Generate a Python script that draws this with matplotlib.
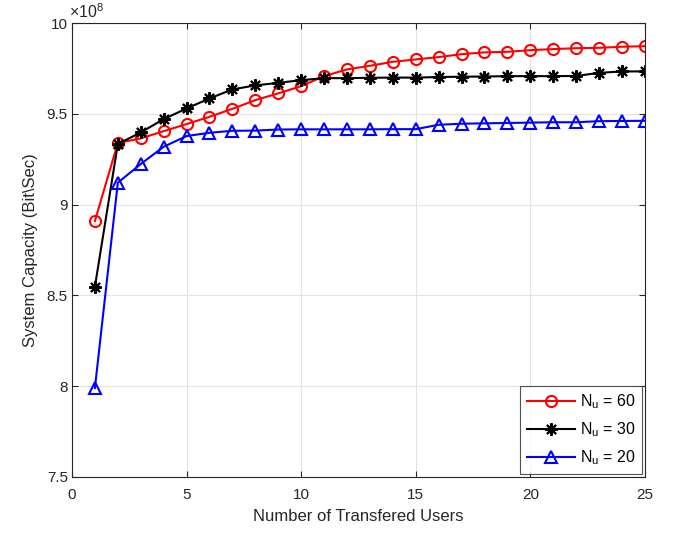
import numpy as np
import matplotlib.pyplot as plt

plt.rcParams['font.family'] = ['Liberation Sans', 'DejaVu Sans']
plt.rcParams['mathtext.fontset'] = 'custom'
plt.rcParams['mathtext.rm'] = 'Liberation Sans'

# transferred users
x = list(range(1, 26))

# system capacity in units of 1e8 bit/sec
y_nu60 = [8.91, 9.34, 9.365, 9.405, 9.444, 9.484, 9.528, 9.576, 9.613, 9.653,
          9.708, 9.745, 9.765, 9.787, 9.800, 9.813, 9.829, 9.839, 9.842, 9.851,
          9.857, 9.862, 9.864, 9.870, 9.873]
y_nu30 = [8.548, 9.334, 9.398, 9.471, 9.530, 9.585, 9.635, 9.657, 9.671, 9.686,
          9.697, 9.697, 9.699, 9.700, 9.700, 9.703, 9.705, 9.706, 9.708, 9.708,
          9.708, 9.709, 9.726, 9.734, 9.734]
y_nu20 = [7.99, 9.121, 9.224, 9.319, 9.378, 9.396, 9.407, 9.408, 9.414, 9.415,
          9.415, 9.415, 9.415, 9.416, 9.416, 9.440, 9.446, 9.448, 9.450, 9.452,
          9.454, 9.454, 9.460, 9.461, 9.462]

labels = [r'N$_{\rm u}$ = 60', r'N$_{\rm u}$ = 30', r'N$_{\rm u}$ = 20']

fig = plt.figure(figsize=(6.81, 5.38), dpi=100)
ax = fig.add_axes([0.1057, 0.1134, 0.8413, 0.8436])

ax.plot(x, y_nu60, color='red', lw=1.5, marker='o', ms=8, mfc='none', mew=1.5, label=labels[0])
ax.plot(x, y_nu30, color='black', lw=1.5, marker=(8, 2, 0), ms=9, mew=1.5, label=labels[1])
ax.plot(x, y_nu20, color='blue', lw=1.5, marker='^', ms=8, mfc='none', mew=1.5, label=labels[2])

ax.set_xlim(0, 25)
ax.set_ylim(7.5, 10)
ax.set_xticks([0, 5, 10, 15, 20, 25])
ax.set_yticks([7.5, 8, 8.5, 9, 9.5, 10])
ax.set_yticklabels(['7.5', '8', '8.5', '9', '9.5', '10'])
ax.tick_params(direction='in', top=True, right=True, labelsize=11, colors='#262626', length=4)
ax.tick_params(axis='x', pad=8)
ax.tick_params(axis='y', pad=3)
ax.grid(True, color='#e3e3e3', lw=0.8)
ax.set_axisbelow(True)
for s in ax.spines.values():
    s.set_color('#262626')
    s.set_linewidth(0.8)

ax.set_xlabel('Number of Transfered Users', fontsize=12, color='#262626', labelpad=5)
ax.set_ylabel('System Capacity (Bit\\Sec)', fontsize=12, color='#262626', labelpad=6)
ax.text(-0.005, 1.005, '×10$^{8}$', transform=ax.transAxes, fontsize=11.5, color='#262626', va='bottom')

leg = ax.legend(loc='lower right', fontsize=11.5, fancybox=False, edgecolor='#262626',
                handlelength=3.0, handletextpad=0.3, borderaxespad=0.2, labelspacing=0.6)
leg.get_frame().set_linewidth(0.8)

fig.savefig('out.png', dpi=100)
